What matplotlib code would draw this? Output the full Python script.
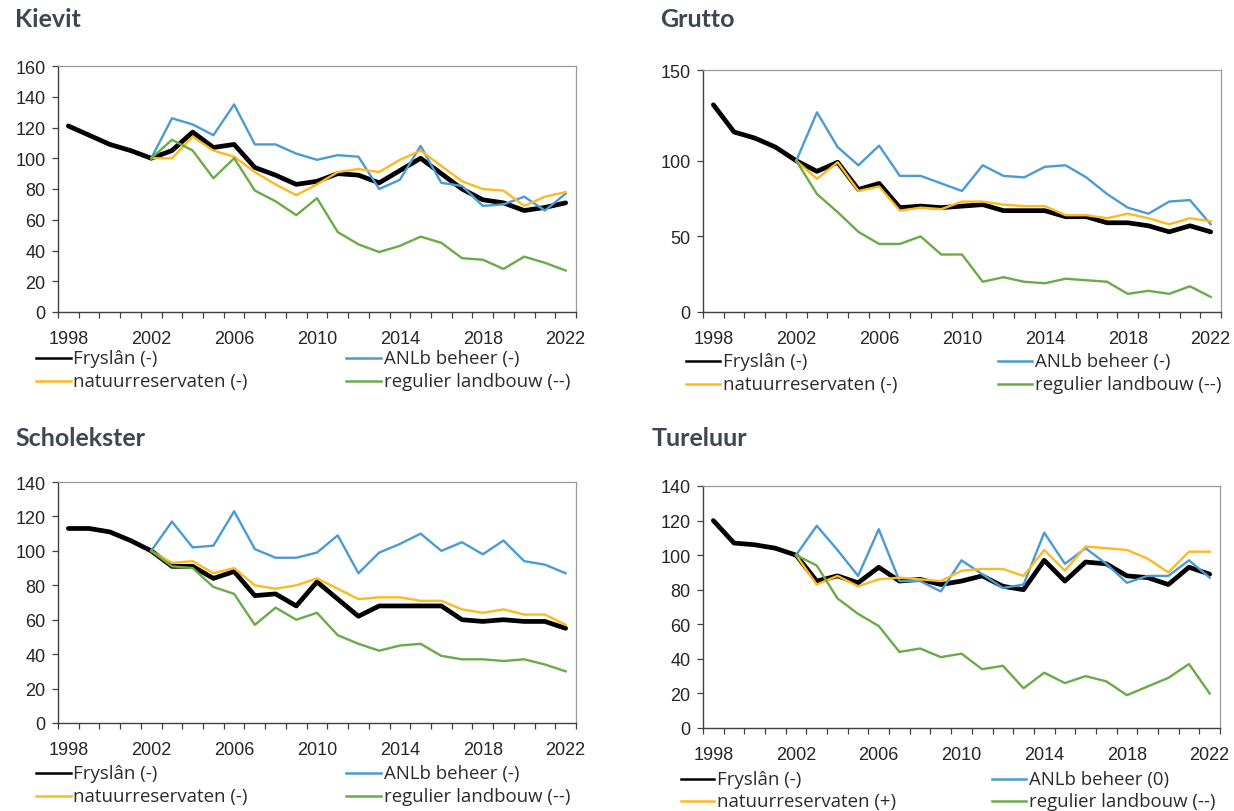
import numpy as np
import matplotlib.pyplot as plt
from matplotlib.lines import Line2D

# jaren (categorieen) en indexwaarden (2002 = 100)
years = list(range(1998, 2023))
years_split = years[4:]   # uitsplitsing naar beheer vanaf 2002

kievit_fryslan = [121, 115, 109, 105, 100, 105, 117, 107, 109, 94, 89, 83, 85, 90, 89, 84, 92, 100, 90, 80, 73, 71, 66, 68, 71]
kievit_anlb = [100, 126, 122, 115, 135, 109, 109, 103, 99, 102, 101, 80, 86, 108, 84, 82, 69, 70, 75, 66, 77]
kievit_natuur = [100, 100, 114, 105, 101, 91, 83, 76, 83, 91, 93, 91, 99, 105, 95, 85, 80, 79, 69, 75, 78]
kievit_regulier = [100, 112, 105, 87, 100, 79, 72, 63, 74, 52, 44, 39, 43, 49, 45, 35, 34, 28, 36, 32, 27]

grutto_fryslan = [137, 119, 115, 109, 100, 93, 99, 81, 85, 69, 70, 69, 70, 71, 67, 67, 67, 63, 63, 59, 59, 57, 53, 57, 53]
grutto_anlb = [100, 132, 109, 97, 110, 90, 90, 85, 80, 97, 90, 89, 96, 97, 89, 78, 69, 65, 73, 74, 58]
grutto_natuur = [100, 88, 99, 80, 83, 67, 69, 68, 73, 73, 71, 70, 70, 64, 64, 62, 65, 62, 58, 62, 60]
grutto_regulier = [100, 78, 66, 53, 45, 45, 50, 38, 38, 20, 23, 20, 19, 22, 21, 20, 12, 14, 12, 17, 10]

scholekster_fryslan = [113, 113, 111, 106, 100, 91, 91, 84, 88, 74, 75, 68, 82, 72, 62, 68, 68, 68, 68, 60, 59, 60, 59, 59, 55]
scholekster_anlb = [100, 117, 102, 103, 123, 101, 96, 96, 99, 109, 87, 99, 104, 110, 100, 105, 98, 106, 94, 92, 87]
scholekster_natuur = [100, 93, 94, 87, 90, 80, 78, 80, 84, 78, 72, 73, 73, 71, 71, 66, 64, 66, 63, 63, 57]
scholekster_regulier = [100, 91, 90, 79, 75, 57, 67, 60, 64, 51, 46, 42, 45, 46, 39, 37, 37, 36, 37, 34, 30]

tureluur_fryslan = [120, 107, 106, 104, 100, 85, 88, 84, 93, 85, 86, 83, 85, 88, 82, 80, 97, 85, 96, 95, 88, 87, 83, 93, 89]
tureluur_anlb = [100, 117, 103, 88, 115, 85, 85, 79, 97, 89, 81, 83, 113, 95, 104, 95, 84, 88, 88, 97, 87]
tureluur_natuur = [100, 83, 88, 82, 86, 87, 86, 85, 91, 92, 92, 88, 103, 91, 105, 104, 103, 98, 90, 102, 102]
tureluur_regulier = [100, 94, 75, 66, 59, 44, 46, 41, 43, 34, 36, 23, 32, 26, 30, 27, 19, 24, 29, 37, 20]

labels_default = ["Fryslân (-)", "ANLb beheer (-)", "natuurreservaten (-)", "regulier landbouw (--)"]
labels_tureluur = ["Fryslân (-)", "ANLb beheer (0)", "natuurreservaten (+)", "regulier landbouw (--)"]

BLACK = "#000000"
BLUE = "#4a9bd5"
ORANGE = "#ffb81f"
GREEN = "#6aab46"
TITLE_COLOR = "#3c4753"

W, H = 1234, 812
fig = plt.figure(figsize=(W / 100, H / 100), dpi=100)
fig.patch.set_facecolor("white")


def px_axes(left, top, right, bottom):
    return fig.add_axes([left / W, 1 - bottom / H, (right - left) / W, (bottom - top) / H])


def draw_panel(ax, fryslan, anlb, natuur, regulier, ymax, yticks, yticklabels):
    ax.plot(years, fryslan, color=BLACK, lw=3.4, solid_joinstyle="round", solid_capstyle="round", zorder=3)
    ax.plot(years_split, anlb, color=BLUE, lw=1.7, zorder=4)
    ax.plot(years_split, natuur, color=ORANGE, lw=1.7, zorder=5)
    ax.plot(years_split, regulier, color=GREEN, lw=1.7, zorder=6)

    ax.set_xlim(years[0] - 0.5, years[-1] + 0.5)
    ax.set_ylim(0, ymax)
    ax.set_xticks(years[::4])
    ax.set_xticks(np.arange(years[0] - 0.5, years[-1] + 1, 1), minor=True)
    ax.tick_params(axis="x", which="major", length=0, pad=13, labelsize=13, labelcolor="#262626")
    ax.tick_params(axis="x", which="minor", length=4, width=0.9, color="#404040", direction="out")
    ax.set_yticks(yticks)
    ax.set_yticklabels(yticklabels)
    ax.tick_params(axis="y", which="major", length=4, width=0.9, color="#404040", pad=5,
                   labelsize=13, labelcolor="#262626")
    for lab in ax.get_xticklabels() + ax.get_yticklabels():
        lab.set_family("Liberation Sans")
    for side in ["left", "bottom"]:
        ax.spines[side].set_color("#404040")
        ax.spines[side].set_linewidth(1.0)
    for side in ["top", "right"]:
        ax.spines[side].set_color("#9a9a9a")
        ax.spines[side].set_linewidth(0.9)


def draw_legend(labels, rows_y, col1, col2):
    # col = (line start, line end, text start) in pixels
    colors = [BLACK, BLUE, ORANGE, GREEN]
    spots = [(col1, rows_y[0]), (col2, rows_y[0]), (col1, rows_y[1]), (col2, rows_y[1])]
    for label, color, (col, y) in zip(labels, colors, spots):
        fig.add_artist(Line2D([col[0] / W, col[1] / W], [1 - y / H, 1 - y / H],
                              transform=fig.transFigure, color=color, lw=1.8))
        fig.text(col[2] / W, 1 - y / H, label, va="center", ha="left", fontsize=13.4,
                 family="Open Sans", color="#2b2b2b")


def draw_title(x, y, text):
    fig.text(x / W, 1 - y / H, text, fontsize=18, fontweight="bold", family="Lato",
             color=TITLE_COLOR, va="baseline", ha="left")


# Kievit
ax1 = px_axes(58, 67, 576, 313)
draw_panel(ax1, kievit_fryslan, kievit_anlb, kievit_natuur, kievit_regulier,
           160, list(range(0, 161, 20)), [str(v) for v in range(0, 161, 20)])
draw_title(15, 27, "Kievit")
draw_legend(labels_default, (359, 382), (36, 71, 73), (346, 381, 384))

# Grutto (bovenste aslabel staat in het origineel op de rand)
ax2 = px_axes(703, 71, 1221, 313)
draw_panel(ax2, grutto_fryslan, grutto_anlb, grutto_natuur, grutto_regulier,
           160, [0, 50, 100, 160], ["0", "50", "100", "150"])
draw_title(660, 27, "Grutto")
draw_legend(labels_default, (362, 385), (686, 720, 723), (998, 1032, 1035))

# Scholekster
ax3 = px_axes(58, 483, 576, 724)
draw_panel(ax3, scholekster_fryslan, scholekster_anlb, scholekster_natuur, scholekster_regulier,
           140, list(range(0, 141, 20)), [str(v) for v in range(0, 141, 20)])
draw_title(15, 446, "Scholekster")
draw_legend(labels_default, (774, 797), (36, 71, 73), (346, 381, 384))

# Tureluur
ax4 = px_axes(703, 487, 1220, 729)
draw_panel(ax4, tureluur_fryslan, tureluur_anlb, tureluur_natuur, tureluur_regulier,
           140, list(range(0, 141, 20)), [str(v) for v in range(0, 141, 20)])
draw_title(652, 446, "Tureluur")
draw_legend(labels_tureluur, (780, 802), (681, 714, 717), (992, 1026, 1029))

fig.savefig("out.png", dpi=100, facecolor="white")
